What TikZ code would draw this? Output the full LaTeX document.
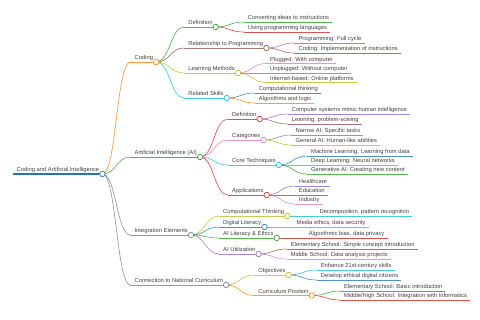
\documentclass[tikz,border=0pt]{standalone}
\usepackage{fontspec}
\setmainfont{Liberation Sans}
\usetikzlibrary{calc}

\definecolor{mBlue}{HTML}{1F77B4}
\definecolor{mOrange}{HTML}{FF7F0E}
\definecolor{mGreen}{HTML}{2CA02C}
\definecolor{mRed}{HTML}{D62728}
\definecolor{mPurple}{HTML}{9467BD}
\definecolor{mBrown}{HTML}{8C564B}
\definecolor{mPink}{HTML}{E377C2}
\definecolor{mGray}{HTML}{7F7F7F}
\definecolor{mOlive}{HTML}{BCBD22}
\definecolor{mCyan}{HTML}{17BECF}
\definecolor{txtgray}{HTML}{404040}

\newcommand\mmfont{\fontsize{5.8}{7}\selectfont}

\tikzset{
  lbl/.style={anchor=base west, inner sep=0pt, font=\mmfont, text=txtgray},
  uline/.style={line width=0.65pt, draw opacity=0.8},
  link/.style={line width=0.65pt, draw opacity=0.8},
  knob/.style={circle, fill=white, inner sep=0pt, minimum size=5.5pt, line width=0.65pt},
}

% branch: name, parent, colour, line height, text
\newcommand\mmnode[5]{%
  \path let \p1=(#2-o) in (\x1+28pt,-#4pt) coordinate (#1-i);
  \node[lbl] (#1) at ([shift={(4,-2)}]#1-i) {#5};
  \path let \p1=(#1.east), \p2=(#1-i) in (\x1+3pt,\y2) coordinate (#1-o);
  \draw[link,#3] (#2-o) .. controls +(14,0) and +(-14,0) .. (#1-i);
  \draw[uline,#3] (#1-i) -- (#1-o);
}

\begin{document}
\begin{tikzpicture}[x=1pt, y=-1pt]
	\useasboundingbox (0,0) rectangle (480,320);
	% root
	\coordinate (root-i) at (12.5,174);
	\node[lbl] (root) at ([shift={(4,-2)}]root-i) {Coding and Artificial Intelligence};
	\path let \p1=(root.east), \p2=(root-i) in (\x1+3pt,\y2) coordinate (root-o);
	\draw[mBlue, line width=1.5pt] (root-i) -- (root-o);
	% coding
	\mmnode{cod}{root}{mOrange}{62}{Coding}
	\mmnode{cdef}{cod}{mGreen}{27}{Definition}
	\mmnode{cconv}{cdef}{mGreen}{22}{Converting ideas to instructions}
	\mmnode{cuse}{cdef}{mRed}{32}{Using programming languages}
	\mmnode{crel}{cod}{mBrown}{48}{Relationship to Programming}
	\mmnode{cprog}{crel}{mPurple}{43}{Programming: Full cycle}
	\mmnode{cimpl}{crel}{mBrown}{53}{Coding: Implementation of instructions}
	\mmnode{clm}{cod}{mOlive}{73}{Learning Methods}
	\mmnode{cplug}{clm}{mPink}{63.5}{Plugged: With computer}
	\mmnode{cunpl}{clm}{mGray}{73}{Unplugged: Without computer}
	\mmnode{cnet}{clm}{mOlive}{82.5}{Internet-based: Online platforms}
	\mmnode{crs}{cod}{mCyan}{98}{Related Skills}
	\mmnode{cct}{crs}{mBlue}{93}{Computational thinking}
	\mmnode{calg}{crs}{mOrange}{103}{Algorithms and logic}
	% artificial intelligence
	\mmnode{ai}{root}{mGreen}{157}{Artificial Intelligence (AI)}
	\mmnode{adef}{ai}{mRed}{119}{Definition}
	\mmnode{asys}{adef}{mPurple}{114}{Computer systems mimic human intelligence}
	\mmnode{alrn}{adef}{mBrown}{124}{Learning, problem-solving}
	\mmnode{acat}{ai}{mPink}{140}{Categories}
	\mmnode{anar}{acat}{mGray}{135}{Narrow AI: Specific tasks}
	\mmnode{agen}{acat}{mOlive}{145}{General AI: Human-like abilities}
	\mmnode{acore}{ai}{mCyan}{165}{Core Techniques}
	\mmnode{aml}{acore}{mBlue}{156}{Machine Learning: Learning from data}
	\mmnode{adl}{acore}{mOrange}{165}{Deep Learning: Neural networks}
	\mmnode{agai}{acore}{mGreen}{174}{Generative AI: Creating new content}
	\mmnode{aapp}{ai}{mRed}{195}{Applications}
	\mmnode{ahlt}{aapp}{mPurple}{186}{Healthcare}
	\mmnode{aedu}{aapp}{mBrown}{195}{Education}
	\mmnode{aind}{aapp}{mPink}{204}{Industry}
	% integration
	\mmnode{intg}{root}{mGray}{235}{Integration Elements}
	\mmnode{ict}{intg}{mOlive}{216}{Computational Thinking}
	\mmnode{idec}{ict}{mCyan}{216}{Decomposition, pattern recognition}
	\mmnode{idl}{intg}{mBlue}{227}{Digital Literacy}
	\mmnode{imed}{idl}{mOrange}{227}{Media ethics, data security}
	\mmnode{ial}{intg}{mGreen}{238}{AI Literacy \& Ethics}
	\mmnode{ibias}{ial}{mRed}{238}{Algorithmic bias, data privacy}
	\mmnode{iau}{intg}{mPurple}{254}{AI Utilization}
	\mmnode{iel}{iau}{mBrown}{249}{Elementary School: Simple concept introduction}
	\mmnode{imid}{iau}{mPink}{259}{Middle School: Data analysis projects}
	% curriculum
	\mmnode{conn}{root}{mGray}{285}{Connection to National Curriculum}
	\mmnode{nobj}{conn}{mOlive}{275}{Objectives}
	\mmnode{nenh}{nobj}{mCyan}{270}{Enhance 21st-century skills}
	\mmnode{ndev}{nobj}{mBlue}{280}{Develop ethical digital citizens}
	\mmnode{npos}{conn}{mOrange}{295.5}{Curriculum Position}
	\mmnode{nele}{npos}{mGreen}{291}{Elementary School: Basic introduction}
	\mmnode{nmid}{npos}{mRed}{300}{Middle/High School: Integration with Informatics}
	% knobs on top
	\foreach \n/\c in {root/mBlue, cod/mOrange, cdef/mGreen, crel/mBrown, clm/mOlive, crs/mCyan,
	    ai/mGreen, adef/mRed, acat/mPink, acore/mCyan, aapp/mRed,
	    intg/mGray, ict/mOlive, idl/mBlue, ial/mGreen, iau/mPurple,
	    conn/mGray, nobj/mOlive, npos/mOrange}
	  \node[knob, draw=\c] (\n-k) at (\n-o) {};
\end{tikzpicture}
\end{document}
